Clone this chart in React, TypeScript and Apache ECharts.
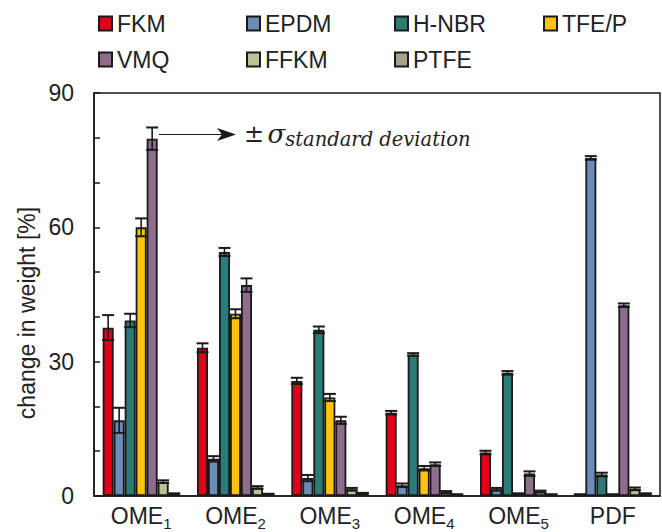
import React, { useEffect, useRef } from "react";
import * as echarts from "echarts";

const categories = ["OME1", "OME2", "OME3", "OME4", "OME5", "PDF"];
const seriesNames = ["FKM", "EPDM", "H-NBR", "TFE/P", "VMQ", "FFKM", "PTFE"];
const seriesColors = ["#E2001A", "#6B8BB8", "#2B7B77", "#FFC20E", "#8F6B8C", "#BAC197", "#A8A088"];

const FKM = [37.6, 33.1, 25.7, 18.6, 9.7, 0.3];
const FKM_sd = [2.8, 1.0, 0.7, 0.4, 0.4, 0.1];
const EPDM = [16.9, 8.3, 4.0, 2.4, 1.5, 75.5];
const EPDM_sd = [2.8, 0.6, 0.7, 0.4, 0.3, 0.4];
const HNBR = [39.2, 54.5, 37.1, 31.6, 27.5, 4.8];
const HNBR_sd = [1.5, 0.9, 0.75, 0.3, 0.4, 0.4];
const TFEP = [60.0, 40.7, 22.0, 6.2, 0.5, 0.3];
const TFEP_sd = [2.0, 1.0, 0.8, 0.5, 0.1, 0.1];
const VMQ = [79.8, 47.1, 16.9, 7.1, 5.0, 42.6];
const VMQ_sd = [2.5, 1.5, 0.8, 0.4, 0.5, 0.4];
const FFKM = [3.2, 1.9, 1.5, 0.9, 1.0, 1.6];
const FFKM_sd = [0.3, 0.3, 0.3, 0.2, 0.2, 0.3];
const PTFE = [0.5, 0.4, 0.6, 0.3, 0.3, 0.5];
const PTFE_sd = [0.1, 0.1, 0.1, 0.1, 0.1, 0.1];

const means = [FKM, EPDM, HNBR, TFEP, VMQ, FFKM, PTFE];
const sds = [FKM_sd, EPDM_sd, HNBR_sd, TFEP_sd, VMQ_sd, FFKM_sd, PTFE_sd];

const legendLefts = [98, 246, 394, 543];
const legendTops = [12, 48];

const SANS = "'Liberation Sans', Arial, Helvetica, sans-serif";
const SERIF = "'DejaVu Serif', serif";
const INK = "#1a1a1a";
const BAR_W = 11;

export default function App() {
  const ref = useRef<HTMLDivElement>(null);
  useEffect(() => {
    if (!ref.current) return;
    const chart = echarts.init(ref.current, undefined, { renderer: "svg" });

    const barSeries = seriesNames.map((name, i) => ({
      name,
      type: "bar",
      barWidth: BAR_W,
      barGap: "0%",
      data: means[i],
      itemStyle: { color: seriesColors[i], borderColor: INK, borderWidth: 1.8 },
      z: 2,
    }));

    const errSeries = seriesNames.map((name, i) => ({
      name: name + " sd",
      type: "custom",
      z: 3,
      silent: true,
      data: means[i].map((m, k) => [k, m, sds[i][k]]),
      encode: { x: 0, y: 1 },
      renderItem: (params: any, api: any) => {
        const cat = api.value(0);
        const mean = api.value(1);
        const sd = api.value(2);
        const offset = (i - (seriesNames.length - 1) / 2) * BAR_W;
        const x = api.coord([cat, mean])[0] + offset;
        const yTop = api.coord([cat, mean + sd])[1];
        const yBot = api.coord([cat, Math.max(0, mean - sd)])[1];
        const hw = 6;
        const st = { stroke: INK, lineWidth: 2 };
        return {
          type: "group",
          children: [
            { type: "line", shape: { x1: x, y1: yTop, x2: x, y2: yBot }, style: { stroke: INK, lineWidth: 1.6 } },
            { type: "line", shape: { x1: x - hw, y1: yTop, x2: x + hw, y2: yTop }, style: st },
            { type: "line", shape: { x1: x - hw, y1: yBot, x2: x + hw, y2: yBot }, style: st },
          ],
        };
      },
    }));

    const legends = seriesNames.map((name, i) => ({
      data: [name],
      left: legendLefts[i % 4],
      top: legendTops[Math.floor(i / 4)],
      padding: 0,
      itemWidth: 13,
      itemHeight: 14,
      icon: "rect",
      selectedMode: false,
      textStyle: { fontSize: 23, fontFamily: SANS, color: "#222" },
    }));

    chart.setOption({
      animation: false,
      backgroundColor: "#ffffff",
      legend: legends,
      grid: {
        left: 94,
        right: 2,
        top: 93,
        bottom: 36,
        show: true,
        borderColor: INK,
        borderWidth: 1.5,
        backgroundColor: "transparent",
      },
      xAxis: {
        type: "category",
        data: categories,
        axisLine: { show: true, lineStyle: { color: INK, width: 1.5 } },
        axisTick: { show: false },
        axisLabel: {
          margin: 5,
          interval: 0,
          formatter: (v: string) => {
            const m = v.match(/^(.*?)(\d+)$/);
            return m ? `{m|${m[1]}}{s|${m[2]}}` : `{m|${v}}`;
          },
          rich: {
            m: { fontSize: 23, lineHeight: 30, fontFamily: SANS, color: "#222" },
            s: { fontSize: 15, lineHeight: 12, verticalAlign: "bottom", fontFamily: SANS, color: "#222" },
          },
        },
      },
      yAxis: {
        type: "value",
        min: 0,
        max: 90,
        interval: 30,
        axisLine: { show: true, lineStyle: { color: INK, width: 1.5 } },
        axisTick: { show: true, inside: true, length: 6, lineStyle: { color: INK, width: 1.5 } },
        minorTick: { show: true, splitNumber: 3, length: 6, lineStyle: { color: INK, width: 1.5 } },
        splitLine: { show: false },
        axisLabel: { fontSize: 23, fontFamily: SANS, color: "#222", margin: 20 },
      },
      graphic: [
        {
          type: "text",
          x: 27,
          y: 313,
          rotation: Math.PI / 2,
          style: {
            text: "change in weight [%]",
            font: `23px ${SANS}`,
            fontSize: 23,
            fontFamily: SANS,
            fill: "#222",
            textAlign: "center",
            textVerticalAlign: "middle",
            align: "center",
            verticalAlign: "middle",
          },
        },
        {
          type: "line",
          shape: { x1: 159, y1: 134.5, x2: 226, y2: 134.5 },
          style: { stroke: INK, lineWidth: 1.2 },
        },
        {
          type: "polygon",
          shape: { points: [[217, 128], [236, 134.5], [217, 141], [222, 134.5]] },
          style: { fill: INK },
        },
        {
          type: "text",
          x: 244,
          y: 134,
          style: {
            text: "{pm|±} {sig|σ}{sub|standard deviation}",
            textVerticalAlign: "middle",
            verticalAlign: "middle",
            fill: "#222",
            rich: {
              pm: { fontSize: 24, lineHeight: 30, fontFamily: SERIF, fill: "#222", color: "#222" },
              sig: { fontSize: 26, lineHeight: 30, fontStyle: "italic", fontFamily: SERIF, fill: "#222", color: "#222" },
              sub: { fontSize: 19.5, lineHeight: 18, verticalAlign: "bottom", fontStyle: "italic", fontFamily: SERIF, fill: "#222", color: "#222" },
            },
          },
        },
      ],
      series: [...barSeries, ...errSeries],
    });
    return () => chart.dispose();
  }, []);
  return (
    <div
      ref={ref}
      style={{ position: "fixed", left: 0, top: 0, width: 662, height: 532, background: "#fff" }}
    />
  );
}
